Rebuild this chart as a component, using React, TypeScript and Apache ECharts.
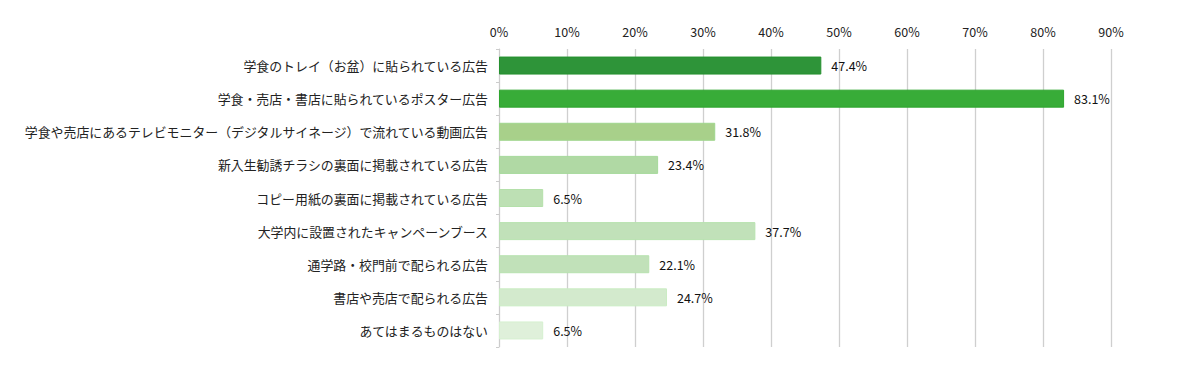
import React, { useEffect, useRef } from "react";
import * as echarts from "echarts";

const categories = [
  "学食のトレイ（お盆）に貼られている広告",
  "学食・売店・書店に貼られているポスター広告",
  "学食や売店にあるテレビモニター（デジタルサイネージ）で流れている動画広告",
  "新入生勧誘チラシの裏面に掲載されている広告",
  "コピー用紙の裏面に掲載されている広告",
  "大学内に設置されたキャンペーンブース",
  "通学路・校門前で配られる広告",
  "書店や売店で配られる広告",
  "あてはまるものはない",
];
const values = [47.4, 83.1, 31.8, 23.4, 6.5, 37.7, 22.1, 24.7, 6.5];
const barColors = ["#2e9439", "#38ac38", "#a8d08a", "#b0d9a4", "#bde0b4", "#c1e1b9", "#c1e1b9", "#d3eacd", "#dff0da"];
const borderColors = ["#25902f", "#2ea52e", "#9fd68d", "#a6d99a", "#b4e0aa", "#b8e2b0", "#b8e2b0", "#c9ecc2", "#d6f0d0"];
const xTicks = [0, 10, 20, 30, 40, 50, 60, 70, 80, 90];

export default function App() {
  const ref = useRef<HTMLDivElement>(null);
  useEffect(() => {
    const chart = echarts.init(ref.current!, null, { renderer: "svg" });
    const font = "'Noto Sans CJK JP', 'Noto Sans', sans-serif";
    chart.setOption({
      animation: false,
      grid: { left: 499, right: 70, top: 49, bottom: 19, containLabel: false },
      xAxis: {
        type: "value",
        position: "top",
        min: xTicks[0],
        max: xTicks[xTicks.length - 1],
        interval: 10,
        axisLine: { show: false },
        axisTick: { show: false },
        axisLabel: { formatter: "{value}%", color: "#222", fontSize: 12.5, fontFamily: font, margin: 11 },
        splitLine: { show: true, lineStyle: { color: "#cfcfcf", width: 1.3 } },
      },
      yAxis: {
        type: "category",
        inverse: true,
        data: categories,
        axisLine: { show: true, lineStyle: { color: "#cccccc", width: 1 } },
        axisTick: { show: true, length: 3, lineStyle: { color: "#cccccc" } },
        axisLabel: { color: "#222", fontSize: 12.9, fontFamily: font, margin: 11 },
      },
      series: [
        {
          type: "bar",
          barWidth: 18,
          data: values.map((v, i) => ({
            value: v,
            itemStyle: { color: barColors[i], borderColor: borderColors[i], borderWidth: 1 },
          })),
          label: {
            show: true,
            position: "right",
            distance: 10,
            formatter: (p: any) => p.value.toFixed(1) + "%",
            color: "#111",
            fontSize: 12.5,
            fontWeight: "normal",
            fontFamily: font,
          },
        },
      ],
    });
    return () => chart.dispose();
  }, []);
  return <div ref={ref} style={{ width: 1181, height: 366, position: "absolute", left: 0, top: 0 }} />;
}
